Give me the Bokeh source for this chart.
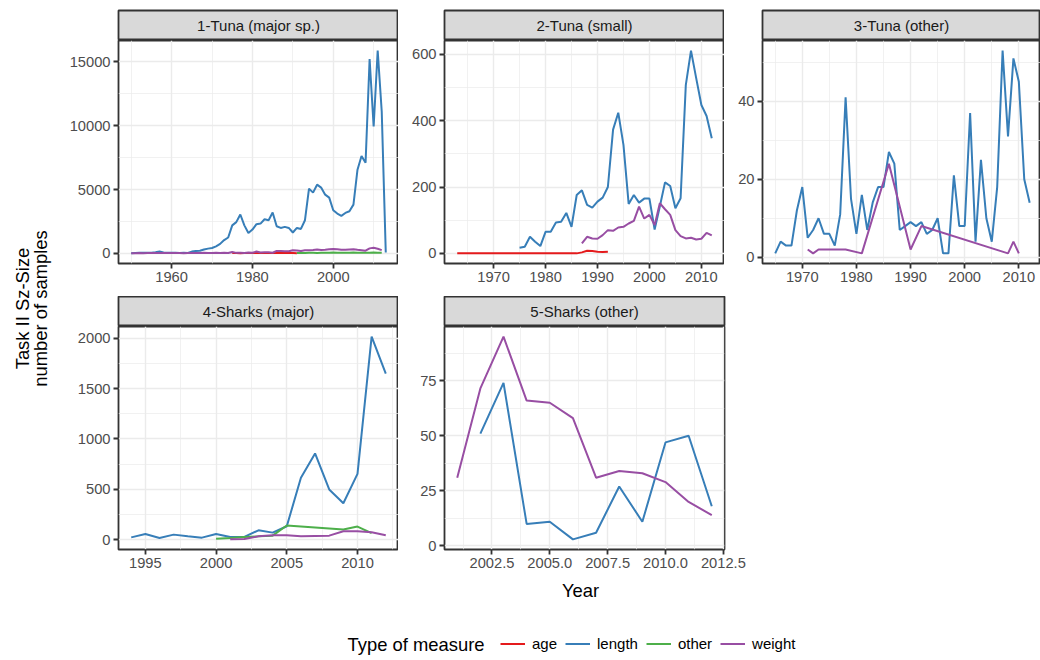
import numpy as np
from bokeh.plotting import figure
from bokeh.models import Range1d, FixedTicker, Label, Legend, LegendItem, PrintfTickFormatter
from bokeh.layouts import row, column
from bokeh.embed import file_html
from bokeh.resources import INLINE

FONT = "Liberation Sans"
COLORS = {"age": "#E41A1C", "length": "#377EB8", "other": "#4DAF4A", "weight": "#984EA3"}
MEASURES = ["age", "length", "other", "weight"]

# ---------------- data ----------------
# 1-Tuna (major sp.)
t1_length_years = list(range(1950, 2014))
t1_length = [20, 40, 50, 60, 50, 60, 100, 150, 80, 60,
             50, 60, 40, 50, 40, 150, 200, 210, 310, 380,
             430, 560, 750, 1050, 1250, 2200, 2450, 3050, 2200, 1600,
             1870, 2290, 2340, 2680, 2600, 3200, 2130, 2000, 2080, 2000,
             1640, 2000, 1920, 2600, 5070, 4760, 5380, 5150, 4600, 4370,
             3380, 3120, 2940, 3170, 3300, 3820, 6550, 7620, 7100, 15200,
             9930, 15860, 11100, 80]
t1_weight_years = list(range(1950, 2013))
t1_weight = [10, 20, 30, 20, 30, 40, 30, 40, 30, 30,
             40, 30, 30, 20, 30, 40, 30, 40, 50, 40,
             40, 50, 40, 60, 40, 120, 50, 60, 40, 80,
             60, 150, 80, 100, 90, 60, 200, 190, 180, 170,
             250, 240, 200, 250, 260, 270, 310, 280, 300, 330,
             360, 340, 290, 300, 320, 330, 290, 260, 220, 400,
             450, 370, 260]
t1_age_years = list(range(1975, 1992))
t1_age = [40, 30, 20, 30, 40, 30, 40, 30, 30, 40, 30, 40, 50, 40, 30, 30, 20]
t1_other_years = list(range(1991, 2013))
t1_other = [30, 40, 40, 50, 50, 40, 50, 60, 60, 70, 60, 50, 60, 60, 70, 60, 60, 50, 60, 70, 60, 50]

# 2-Tuna (small)
t2_age_years = list(range(1963, 1993))
t2_age = [0] * 24 + [3, 8, 7, 5, 4, 5]
t2_length_years = list(range(1975, 2013))
t2_length = [17, 20, 50, 35, 22, 65, 65, 93, 95, 122,
             80, 176, 190, 146, 138, 156, 168, 200, 373, 424,
             327, 149, 176, 153, 165, 165, 72, 141, 214, 203,
             136, 166, 507, 611, 528, 447, 414, 347]
t2_weight_years = list(range(1987, 2013))
t2_weight = [30, 50, 45, 44, 55, 70, 68, 78, 80, 90, 98, 141, 105, 116, 85, 151,
             133, 116, 70, 52, 45, 47, 42, 44, 62, 54]

# 3-Tuna (other)
t3_length_years = list(range(1965, 2013))
t3_length = [1, 4, 3, 3, 12, 18, 5, 7, 10, 6,
             6, 3, 11, 41, 15, 6, 16, 7, 14, 18,
             18, 27, 24, 7, 8, 9, 8, 9, 6, 7,
             10, 1, 1, 21, 8, 8, 37, 4, 25, 10,
             4, 18, 53, 31, 51, 45, 20, 14]
t3_weight_years = [1971, 1972, 1973, 1974, 1975, 1976, 1977, 1978, 1981, 1986, 1990, 1992, 2008, 2009, 2010]
t3_weight = [2, 1, 2, 2, 2, 2, 2, 2, 1, 24, 2, 8, 1, 4, 1]

# 4-Sharks (major)
s4_length_years = list(range(1994, 2013))
s4_length = [23, 56, 17, 50, 33, 20, 56, 27, 27, 93, 70, 133, 614, 856, 498, 362, 653, 2015, 1648]
s4_other_years = [2000, 2001, 2002, 2003, 2004, 2005, 2009, 2010, 2011]
s4_other = [10, 17, 27, 33, 40, 140, 100, 130, 65]
s4_weight_years = list(range(2001, 2013))
s4_weight = [3, 7, 33, 43, 43, 33, 37, 40, 83, 83, 73, 43]

# 5-Sharks (other)
s5_weight_years = list(range(2001, 2013))
s5_weight = [31, 71.5, 95, 66, 65, 58, 31, 34, 33, 29, 20, 14]
s5_length_years = list(range(2002, 2013))
s5_length = [51, 74, 10, 11, 3, 6, 27, 11, 47, 50, 18]

# ticks
t1_xticks, t1_xminor = [1960, 1980, 2000], [1950, 1970, 1990, 2010]
t1_yticks, t1_yminor = [0, 5000, 10000, 15000], [2500, 7500, 12500]
t2_xticks, t2_xminor = [1970, 1980, 1990, 2000, 2010], [1965, 1975, 1985, 1995, 2005]
t2_yticks, t2_yminor = [0, 200, 400, 600], [100, 300, 500]
t3_xticks, t3_xminor = [1970, 1980, 1990, 2000, 2010], [1965, 1975, 1985, 1995, 2005]
t3_yticks, t3_yminor = [0, 20, 40], [10, 30, 50]
s4_xticks, s4_xminor = [1995, 2000, 2005, 2010], [1997.5, 2002.5, 2007.5, 2012.5]
s4_yticks, s4_yminor = [0, 500, 1000, 1500, 2000], [250, 750, 1250, 1750]
s5_xticks, s5_xminor = [2002.5, 2005.0, 2007.5, 2010.0, 2012.5], [2001.25, 2003.75, 2006.25, 2008.75, 2011.25]
s5_yticks, s5_yminor = [0, 25, 50, 75], [12.5, 37.5, 62.5, 87.5]


def expand(vals_lists, mult=0.05):
    lo = min(min(v) for v in vals_lists)
    hi = max(max(v) for v in vals_lists)
    d = (hi - lo) * mult
    return lo - d, hi + d


def strip_fig(title, border_left, frame_w, top, border_right=0):
    s = figure(frame_width=frame_w, frame_height=30, min_border_left=border_left, min_border_right=border_right,
               min_border_top=top, min_border_bottom=0, x_range=Range1d(0, 1), y_range=Range1d(0, 1),
               x_axis_location=None, y_axis_location=None, toolbar_location=None, output_backend="svg")
    s.grid.visible = False
    s.background_fill_color = "#d9d9d9"
    s.outline_line_color = "#333333"
    s.outline_line_width = 1.8
    s.add_layout(Label(x=0.5, y=0.5, text=title, text_align="center", text_baseline="middle",
                       text_font=FONT, text_font_size="15px", text_color="#1a1a1a"))
    return s


def panel_fig(series, xr, xt, xm, yt, ym, border_left, frame_w, bottom, xfmt=None, border_right=0):
    xs = [s[0] for s in series.values()]
    ys = [s[1] for s in series.values()]
    if xr is None:
        xr = expand(xs)
    yr = expand(ys)
    p = figure(frame_width=frame_w, frame_height=223, min_border_left=border_left, min_border_right=border_right,
               min_border_top=0, min_border_bottom=bottom, x_range=Range1d(*xr), y_range=Range1d(*yr),
               toolbar_location=None, output_backend="svg")
    p.xaxis.ticker = FixedTicker(ticks=xt, minor_ticks=xm)
    p.yaxis.ticker = FixedTicker(ticks=yt, minor_ticks=ym)
    if xfmt:
        p.xaxis.formatter = PrintfTickFormatter(format=xfmt)
    for ax in p.axis:
        ax.axis_line_color = None
        ax.major_tick_line_color = "#333333"
        ax.major_tick_line_width = 1.8
        ax.major_tick_out = 5
        ax.major_tick_in = 0
        ax.minor_tick_line_color = None
        ax.major_label_text_font = FONT
        ax.major_label_text_font_size = "14.7px"
        ax.major_label_text_color = "#4d4d4d"
        ax.major_label_standoff = 3
    p.grid.grid_line_color = "#ebebeb"
    p.grid.grid_line_width = 1.4
    p.grid.minor_grid_line_color = "#ebebeb"
    p.grid.minor_grid_line_width = 0.7
    p.outline_line_color = "#333333"
    p.outline_line_width = 1.8
    for m in MEASURES:
        if m in series:
            x, y = series[m]
            p.line(x, y, line_color=COLORS[m], line_width=2)
    return p


p1 = panel_fig({"age": (t1_age_years, t1_age), "length": (t1_length_years, t1_length),
                "other": (t1_other_years, t1_other), "weight": (t1_weight_years, t1_weight)},
               None, t1_xticks, t1_xminor, t1_yticks, t1_yminor, 58, 280, 33)
p2 = panel_fig({"age": (t2_age_years, t2_age), "length": (t2_length_years, t2_length),
                "weight": (t2_weight_years, t2_weight)},
               None, t2_xticks, t2_xminor, t2_yticks, t2_yminor, 46, 280, 33)
x3 = expand([t3_length_years])
p3 = panel_fig({"length": (t3_length_years, t3_length), "weight": (t3_weight_years, t3_weight)},
               (x3[0], 2014.0), t3_xticks, t3_xminor, t3_yticks, t3_yminor, 38, 278, 33)
p4 = panel_fig({"length": (s4_length_years, s4_length), "other": (s4_other_years, s4_other),
                "weight": (s4_weight_years, s4_weight)},
               None, s4_xticks, s4_xminor, s4_yticks, s4_yminor, 58, 280, 24)
p5 = panel_fig({"length": (s5_length_years, s5_length), "weight": (s5_weight_years, s5_weight)},
               None, s5_xticks, s5_xminor, s5_yticks, s5_yminor, 46, 280, 24, xfmt="%.1f", border_right=30)

st1 = strip_fig("1-Tuna (major sp.)", 58, 280, 10)
st2 = strip_fig("2-Tuna (small)", 46, 280, 10)
st3 = strip_fig("3-Tuna (other)", 38, 278, 10)
st4 = strip_fig("4-Sharks (major)", 58, 280, 0)
st5 = strip_fig("5-Sharks (other)", 46, 280, 0, border_right=30)

# y-axis title
yfig = figure(frame_width=60, frame_height=660, min_border_left=0, min_border_right=0, min_border_top=0,
              min_border_bottom=0, x_range=Range1d(0, 60), y_range=Range1d(660, 0),
              x_axis_location=None, y_axis_location=None, toolbar_location=None, output_backend="svg")
yfig.grid.visible = False
yfig.outline_line_color = None
yfig.add_layout(Label(x=22, y=308, text="Task II Sz-Size", angle=np.pi / 2, text_align="center",
                      text_baseline="middle", text_font=FONT, text_font_size="18.4px", text_color="black"))
yfig.add_layout(Label(x=40, y=308, text="number of samples", angle=np.pi / 2, text_align="center",
                      text_baseline="middle", text_font=FONT, text_font_size="18.4px", text_color="black"))

# bottom: x title + legend
bfig = figure(frame_width=980, frame_height=87, min_border_left=0, min_border_right=0, min_border_top=0,
              min_border_bottom=0, x_range=Range1d(60, 1040), y_range=Range1d(660, 573),
              x_axis_location=None, y_axis_location=None, toolbar_location=None, output_backend="svg")
bfig.grid.visible = False
bfig.outline_line_color = None
bfig.add_layout(Label(x=580, y=590, text="Year", text_align="center", text_baseline="middle",
                      text_font=FONT, text_font_size="18.4px", text_color="black"))
bfig.add_layout(Label(x=347, y=644, text="Type of measure", text_align="left", text_baseline="middle",
                      text_font=FONT, text_font_size="18.4px", text_color="black"))
items = []
for m in MEASURES:
    # legend-only renderer: its data lies outside the visible range
    r = bfig.line(x=[0, 1], y=[0, 0], line_color=COLORS[m], line_width=2)
    items.append(LegendItem(label=m, renderers=[r]))
leg = Legend(items=items, orientation="horizontal", location=(440, 8), glyph_width=25, glyph_height=15,
             label_standoff=7, spacing=8, padding=0, margin=0, border_line_color=None,
             background_fill_alpha=0, label_text_font=FONT, label_text_font_size="15px",
             label_text_color="black")
bfig.add_layout(leg, "center")

grid_part = column(
    row(column(st1, p1), column(st2, p2), column(st3, p3)),
    row(column(st4, p4), column(st5, p5)),
    bfig,
)
layout = row(yfig, grid_part)

open("out.html", "w").write(file_html(layout, INLINE))
